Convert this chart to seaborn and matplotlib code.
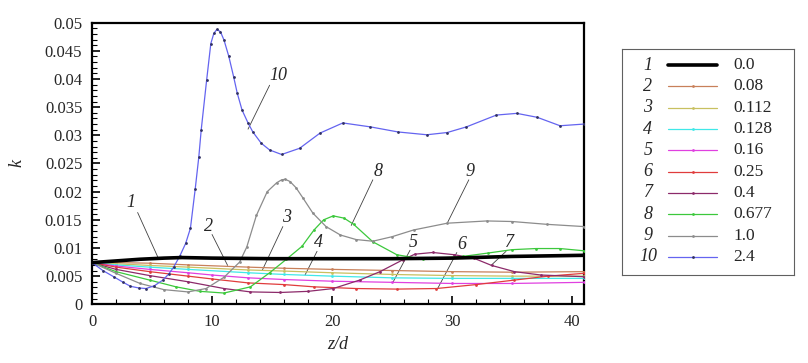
import numpy as np
import pandas as pd
import seaborn as sns
import matplotlib
matplotlib.use('Agg')
import matplotlib.pyplot as plt
from matplotlib.ticker import MultipleLocator, FuncFormatter

# values (z/d, k)
params = ['0.0', '0.08', '0.112', '0.128', '0.16', '0.25', '0.4', '0.677', '1.0', '2.4']
numbers = ['1', '2', '3', '4', '5', '6', '7', '8', '9', '10']
colors = ['#000000', '#c8805a', '#c8c060', '#40e8e8', '#e040e0',
          '#e03c3c', '#8c2a6a', '#3cc83c', '#8c8c8c', '#6464f0']

z1 = [0, 2, 4, 6, 7.5, 10, 15, 20, 25, 30, 35, 41]
k1 = [0.0074, 0.0077, 0.0080, 0.0082, 0.0083, 0.0082, 0.0081, 0.0081, 0.0081, 0.0082, 0.0085, 0.0087]

z2 = [0, 2, 4.8, 8, 13, 16, 20, 25, 30, 35, 41]
k2 = [0.0074, 0.0074, 0.0073, 0.0070, 0.0066, 0.0064, 0.0062, 0.0060, 0.0058, 0.0057, 0.0058]

z3 = [0, 2, 4.8, 8, 13, 16, 20, 25, 30, 35, 41]
k3 = [0.0074, 0.0072, 0.0069, 0.0066, 0.0061, 0.0059, 0.0056, 0.0053, 0.0051, 0.0050, 0.0050]

z4 = [0, 2, 4.8, 8, 13, 16, 20, 25, 30, 35, 41]
k4 = [0.0074, 0.0070, 0.0066, 0.0062, 0.0056, 0.0053, 0.0050, 0.0047, 0.0046, 0.0046, 0.0046]

z5 = [0, 2, 4.8, 8, 10, 13, 16, 20, 25, 30, 35, 41]
k5 = [0.0074, 0.0068, 0.0062, 0.0056, 0.0052, 0.0047, 0.0044, 0.0041, 0.0039, 0.0037, 0.0037, 0.0039]

z6 = [0, 2, 4.8, 8, 10, 13, 16, 18.5, 22, 25.4, 28.7, 32, 35.2, 38, 41]
k6 = [0.0074, 0.0066, 0.0058, 0.0050, 0.0045, 0.0038, 0.0035, 0.0031, 0.0028, 0.0027, 0.0028, 0.0035, 0.0043, 0.0050, 0.0055]

z7 = [0, 2, 4.8, 8, 11, 13.2, 15.7, 18, 20.1, 22.3, 24, 25.9, 26.9, 28.4,
      30.2, 31.8, 33.3, 35.2, 37.4, 41]
k7 = [0.0074, 0.0062, 0.0051, 0.0040, 0.0028, 0.0022, 0.0021, 0.0023, 0.0028, 0.0043,
      0.0058, 0.0079, 0.0089, 0.0092, 0.0088, 0.0082, 0.0069, 0.0058, 0.0052, 0.0049]

z8 = [0, 2, 4.8, 7, 9, 11, 13.2, 14.8, 16.2, 17.5, 18.5, 19.3, 20.1, 21, 21.8,
      23.4, 25.4, 27.6, 30.9, 33, 35, 37, 39, 41]
k8 = [0.0074, 0.0058, 0.0043, 0.0031, 0.0023, 0.0020, 0.0031, 0.0056, 0.0080, 0.0103,
      0.0132, 0.0150, 0.0157, 0.0153, 0.0142, 0.0111, 0.0088, 0.0080, 0.0085, 0.0091,
      0.0097, 0.0099, 0.0099, 0.0095]

z9 = [0, 2, 4, 6, 8, 9.5, 11, 12.3, 12.9, 13.7, 14.6, 15.4, 15.8, 16.1, 16.5, 17, 17.6,
      18.4, 19.5, 20.7, 22, 23.4, 25, 26.8, 29.6, 32.9, 35, 37.9, 41]
k9 = [0.0074, 0.0055, 0.0037, 0.0026, 0.0022, 0.0028, 0.0048, 0.0075, 0.0102, 0.0158,
      0.0200, 0.0216, 0.0221, 0.0222, 0.0218, 0.0207, 0.0188, 0.0162, 0.0138, 0.0123,
      0.0115, 0.0112, 0.0120, 0.0132, 0.0144, 0.0148, 0.0147, 0.0142, 0.0138]

z10 = [0, 0.9, 1.8, 2.6, 3.2, 3.9, 4.5, 5.2, 5.9, 6.4, 6.8, 7.3, 7.8, 8.2, 8.6, 8.9,
       9.1, 9.55, 9.9, 10.15, 10.4, 10.7, 11.0, 11.4, 11.8, 12.1, 12.5, 13.0, 13.4,
       14.1, 14.8, 15.8, 17.3, 19.0, 20.9, 23.2, 25.5, 27.9, 29.6, 31.2, 33.7, 35.4,
       37.1, 39.0, 41]
k10 = [0.0074, 0.0060, 0.0049, 0.0039, 0.0032, 0.0029, 0.0028, 0.0033, 0.0043, 0.0054,
       0.0066, 0.0085, 0.0108, 0.0135, 0.0205, 0.0262, 0.0310, 0.0398, 0.0463, 0.0481,
       0.0488, 0.0484, 0.0469, 0.0440, 0.0404, 0.0375, 0.0345, 0.0322, 0.0306,
       0.0286, 0.0274, 0.0266, 0.0277, 0.0304, 0.0322, 0.0315, 0.0306, 0.0301, 0.0305,
       0.0315, 0.0336, 0.0339, 0.0332, 0.0317, 0.0320]

series_z = [z1, z2, z3, z4, z5, z6, z7, z8, z9, z10]
series_k = [k1, k2, k3, k4, k5, k6, k7, k8, k9, k10]

# curve labels: text position, leader start and end
label_pos = [(3.2, 0.0180), (9.7, 0.0139), (16.25, 0.0155), (18.9, 0.0109), (26.8, 0.0110),
             (30.8, 0.0107), (34.8, 0.0109), (23.8, 0.0235), (31.5, 0.0235), (15.5, 0.0407)]
leader_from = [(3.8, 0.0163), (10.0, 0.0124), (15.9, 0.0138), (18.75, 0.0094), (26.5, 0.0096),
               (30.4, 0.0092), (34.5, 0.0094), (23.4, 0.0221), (31.4, 0.0221), (14.8, 0.0389)]
leader_to = [(5.5, 0.0083), (11.3, 0.0069), (14.2, 0.0061), (17.75, 0.0052), (25.1, 0.0040),
             (28.8, 0.0028), (33.25, 0.0069), (21.6, 0.0140), (29.6, 0.0144), (13.0, 0.0311)]

sns.set_style('white')
plt.rcParams['font.family'] = ['Liberation Serif', 'DejaVu Serif']

fig = plt.figure(figsize=(8.08, 3.63), dpi=100)
ax = fig.add_axes([0.1139, 0.1617, 0.6089, 0.7758])

for i in range(10):
    df = pd.DataFrame({'z': series_z[i], 'k': series_k[i]})
    if i == 0:
        sns.lineplot(data=df, x='z', y='k', ax=ax, color=colors[i], linewidth=2.6,
                     sort=False, zorder=5)
    else:
        sns.lineplot(data=df, x='z', y='k', ax=ax, color=colors[i], linewidth=0.9,
                     marker='o', markersize=2, markeredgewidth=0,
                     markerfacecolor='#303060' if i == 9 else colors[i],
                     sort=False, zorder=3)

for i in range(10):
    ax.text(label_pos[i][0], label_pos[i][1], numbers[i], fontsize=13, style='italic',
            ha='center', va='center')
    ax.plot([leader_from[i][0], leader_to[i][0]], [leader_from[i][1], leader_to[i][1]],
            color='#404040', linewidth=0.6)

ax.set_xlim(0, 41)
ax.set_ylim(0, 0.05)
ax.xaxis.set_major_locator(MultipleLocator(10))
ax.xaxis.set_minor_locator(MultipleLocator(2))
ax.yaxis.set_major_locator(MultipleLocator(0.005))
ax.yaxis.set_minor_locator(MultipleLocator(0.001))
ax.yaxis.set_major_formatter(FuncFormatter(lambda v, p: '%g' % round(v, 4)))
ax.tick_params(which='both', direction='in', left=True, bottom=True, top=False, right=False,
               labelsize=12, color='black')
ax.tick_params(which='major', length=6, width=1.2, pad=7)
ax.tick_params(which='minor', length=3.5, width=0.8)
for s in ax.spines.values():
    s.set_linewidth(1.6)
    s.set_color('black')
ax.set_xlabel('z/d', fontsize=13, style='italic', labelpad=4)
ax.set_ylabel('k', fontsize=13, style='italic', labelpad=14)

# legend panel
lax = fig.add_axes([0.7702, 0.2424, 0.2129, 0.6218])
lax.set_xlim(0, 1)
lax.set_ylim(0, 1)
lax.set_xticks([])
lax.set_yticks([])
for s in lax.spines.values():
    s.set_linewidth(0.8)
    s.set_color('#606060')
for i in range(10):
    yy = 0.930 - i * 0.0944
    lax.text(0.149, yy, numbers[i], fontsize=13, style='italic', ha='center', va='center')
    if i == 0:
        lax.plot([0.267, 0.552], [yy, yy], color=colors[i], linewidth=2.6)
    else:
        lax.plot([0.267, 0.552], [yy, yy], color=colors[i], linewidth=0.9)
        lax.plot([0.41], [yy], 'o', markersize=2, markeredgewidth=0,
                 color='#303060' if i == 9 else colors[i])
    lax.text(0.645, yy, params[i], fontsize=12.5, ha='left', va='center')

fig.savefig('out.png', dpi=100)
